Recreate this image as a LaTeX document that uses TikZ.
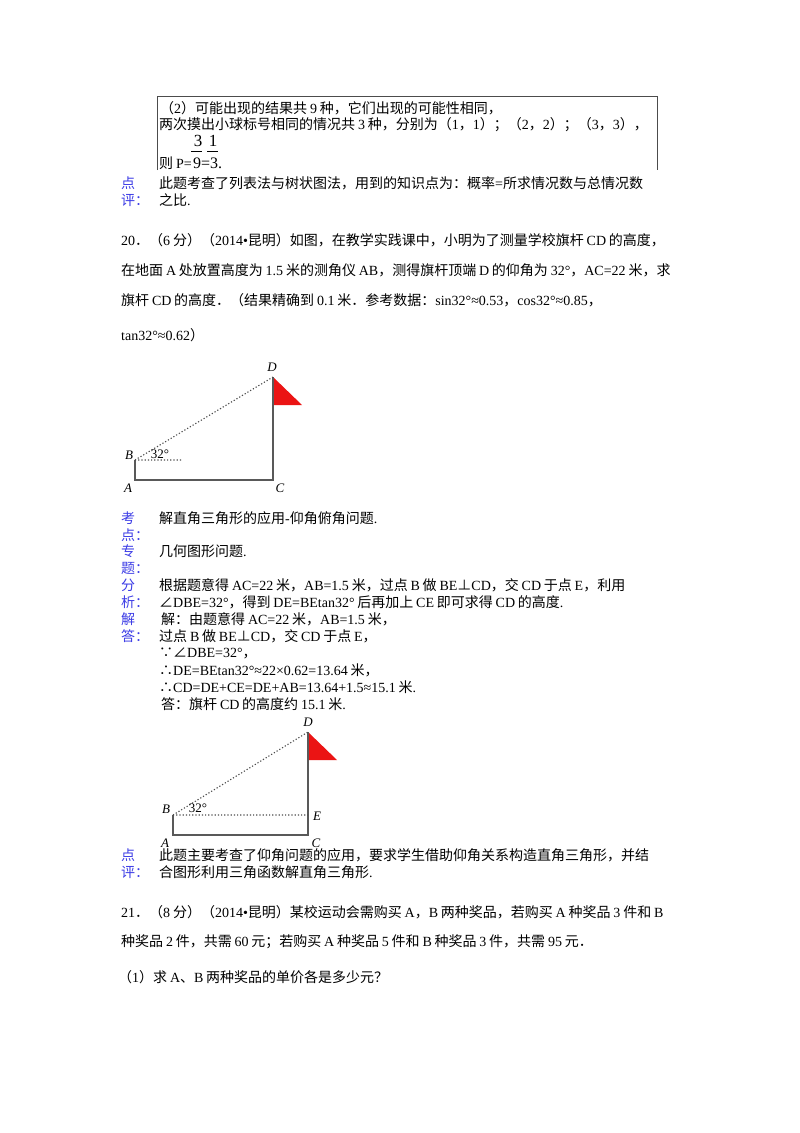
\documentclass[tikz,border=0pt]{standalone}
\usepackage{fontspec}
\setmainfont{Liberation Serif}
\newfontfamily\cjkf{Noto Sans CJK SC}
\newcommand\latf{\rmfamily}
\XeTeXinterchartokenstate=1
\newXeTeXintercharclass\cjkcls
\newXeTeXintercharclass\cjkpct
\newXeTeXintercharclass\latpct
\newcount\cc
\cc="4E00 \loop \XeTeXcharclass\cc=\cjkcls \ifnum\cc<"9FFF \advance\cc 1 \repeat
\cc="FF00 \loop \XeTeXcharclass\cc=\cjkpct \ifnum\cc<"FFEF \advance\cc 1 \repeat
\cc="3000 \loop \XeTeXcharclass\cc=\cjkpct \ifnum\cc<"303F \advance\cc 1 \repeat
\XeTeXcharclass"2220=\cjkpct \XeTeXcharclass"22A5=\cjkpct
\XeTeXcharclass"2235=\cjkpct \XeTeXcharclass"2234=\cjkpct
\XeTeXcharclass`.=\latpct \XeTeXcharclass`-=\latpct
\XeTeXcharclass`==\latpct \XeTeXcharclass"2022=\latpct
\XeTeXinterchartoks 0 \cjkcls={\hskip0.2em\cjkf}
\XeTeXinterchartoks 4095 \cjkcls={\cjkf}
\XeTeXinterchartoks \cjkcls 0={\latf\hskip0.2em}
\XeTeXinterchartoks 0 \cjkpct={\cjkf}
\XeTeXinterchartoks 4095 \cjkpct={\cjkf}
\XeTeXinterchartoks \cjkpct 0={\latf}
\XeTeXinterchartoks \cjkcls \latpct={\latf}
\XeTeXinterchartoks \cjkpct \latpct={\latf}
\XeTeXinterchartoks \latpct \cjkcls={\cjkf}
\XeTeXinterchartoks \latpct \cjkpct={\cjkf}
\definecolor{lblue}{RGB}{60,60,230}
\definecolor{flagred}{RGB}{235,20,20}
\begin{document}
\begin{tikzpicture}[x=1pt,y=-1pt,
  tx/.style={anchor=west,inner sep=0pt,font=\fontsize{14}{15}\selectfont},
  bl/.style={tx,text=lblue},
  lab/.style={inner sep=0pt,font=\fontsize{13}{15}\selectfont\itshape},
  solidln/.style={draw=black!65,line width=1.3pt},
  dotln/.style={draw=black!70,line width=1.1pt,dash pattern=on 1.2pt off 2pt}]
\useasboundingbox[fill=white] (0,0) rectangle (800,1133);
% top box
\coordinate (b1) at (157,170); \coordinate (b2) at (157,96);
\coordinate (b3) at (657,96); \coordinate (b4) at (657,170);
\draw[black!70,line width=0.8pt] (b1) -- (b2) -- (b3) -- (b4);
\node[tx] (t1) at (160,108) {（2）可能出现的结果共9种，它们出现的可能性相同，};
\node[tx] (t2) at (159,125) {两次摸出小球标号相同的情况共3种，分别为（1，1）；（2，2）；（3，3），};
\node[tx] (t3) at (159,163) {则P=};
\node[tx,font=\fontsize{16}{16}\selectfont] (t4) at (193,163) {9=3.};
\node[inner sep=0pt,font=\fontsize{17}{17}\selectfont] (n1) at (198,141) {3};
\node[inner sep=0pt,font=\fontsize{17}{17}\selectfont] (n2) at (213,141) {1};
\coordinate (f1a) at (191,151); \coordinate (f1b) at (202,151);
\coordinate (f2a) at (207,151); \coordinate (f2b) at (218,151);
\draw[line width=1pt] (f1a) -- (f1b);
\draw[line width=1pt] (f2a) -- (f2b);
\node[bl] (p1) at (121,183) {点};
\node[bl] (p2) at (121,200) {评：};
\node[tx] (p3) at (159,183) {此题考查了列表法与树状图法，用到的知识点为：概率=所求情况数与总情况数};
\node[tx] (p4) at (159,200) {之比.};
% question 20
\node[tx] (q1) at (121,240) {20．（6分）（2014•昆明）如图，在教学实践课中，小明为了测量学校旗杆CD的高度，};
\node[tx] (q2) at (121,270) {在地面A处放置高度为1.5米的测角仪AB，测得旗杆顶端D的仰角为32°，AC=22米，求};
\node[tx] (q3) at (121,300) {旗杆CD的高度．（结果精确到0.1米．参考数据：sin32°≈0.53，cos32°≈0.85，};
\node[tx] (q4) at (121,335) {tan32°≈0.62）};
% figure 1
\coordinate (A) at (135,480); \coordinate (B) at (135,460);
\coordinate (C) at (273,480); \coordinate (D) at (273,377);
\coordinate (F1) at (273,405); \coordinate (F2) at (302,405);
\coordinate (H) at (182,460);
\fill[flagred] (D) -- (F1) -- (F2) -- cycle;
\draw[solidln] (B) -- (A) -- (C) -- (D);
\draw[dotln] (B) -- (D) (B) -- (H);
\node[lab] (lD) at (272,367) {D};
\node[lab] (lB) at (129,455) {B};
\node[lab] (lA) at (128,488) {A};
\node[lab] (lC) at (280,488) {C};
\node[inner sep=0pt,font=\fontsize{13}{14}\selectfont] (a1) at (160,454) {32°};
% analysis
\node[bl] (k1) at (121,518) {考};
\node[bl] (k2) at (121,535) {点：};
\node[tx] (k3) at (159,518) {解直角三角形的应用-仰角俯角问题.};
\node[bl] (z1) at (121,551) {专};
\node[bl] (z2) at (121,568) {题：};
\node[tx] (z3) at (159,551) {几何图形问题.};
\node[bl] (s1) at (121,585) {分};
\node[bl] (s2) at (121,602) {析：};
\node[tx] (s3) at (159,585) {根据题意得AC=22米，AB=1.5米，过点B做BE⊥CD，交CD于点E，利用};
\node[tx] (s4) at (159,602) {∠DBE=32°，得到DE=BEtan32°后再加上CE即可求得CD的高度.};
\node[bl] (j1) at (121,619) {解};
\node[bl] (j2) at (121,636) {答：};
\node[tx] (j3) at (161,619) {解：由题意得AC=22米，AB=1.5米，};
\node[tx] (j4) at (159,636) {过点B做BE⊥CD，交CD于点E，};
\node[tx] (j5) at (159,653) {∵∠DBE=32°，};
\node[tx] (j6) at (159,670) {∴DE=BEtan32°≈22×0.62=13.64米，};
\node[tx] (j7) at (159,687) {∴CD=DE+CE=DE+AB=13.64+1.5≈15.1米.};
\node[tx] (j8) at (161,704) {答：旗杆CD的高度约15.1米.};
% figure 2
\coordinate (A2) at (173,835); \coordinate (B2) at (173,815);
\coordinate (C2) at (308,835); \coordinate (D2) at (308,732);
\coordinate (E2) at (308,815);
\coordinate (G1) at (308,760); \coordinate (G2) at (337,760);
\fill[flagred] (D2) -- (G1) -- (G2) -- cycle;
\draw[solidln] (B2) -- (A2) -- (C2) -- (D2);
\draw[dotln] (B2) -- (D2) (B2) -- (E2);
\node[lab] (mD) at (308,722) {D};
\node[lab] (mB) at (166,809) {B};
\node[lab] (mA) at (165,843) {A};
\node[lab] (mC) at (316,843) {C};
\node[lab] (mE) at (317,816) {E};
\node[inner sep=0pt,font=\fontsize{13}{14}\selectfont] (a2) at (198,808) {32°};
% comment
\node[bl] (d1) at (121,855) {点};
\node[bl] (d2) at (121,872) {评：};
\node[tx] (d3) at (159,855) {此题主要考查了仰角问题的应用，要求学生借助仰角关系构造直角三角形，并结};
\node[tx] (d4) at (159,872) {合图形利用三角函数解直角三角形.};
% question 21
\node[tx] (r1) at (121,912) {21．（8分）（2014•昆明）某校运动会需购买A，B两种奖品，若购买A种奖品3件和B};
\node[tx] (r2) at (121,942) {种奖品2件，共需60元；若购买A种奖品5件和B种奖品3件，共需95元．};
\node[tx] (r3) at (118,977) {（1）求A、B两种奖品的单价各是多少元？};
\end{tikzpicture}
\end{document}
